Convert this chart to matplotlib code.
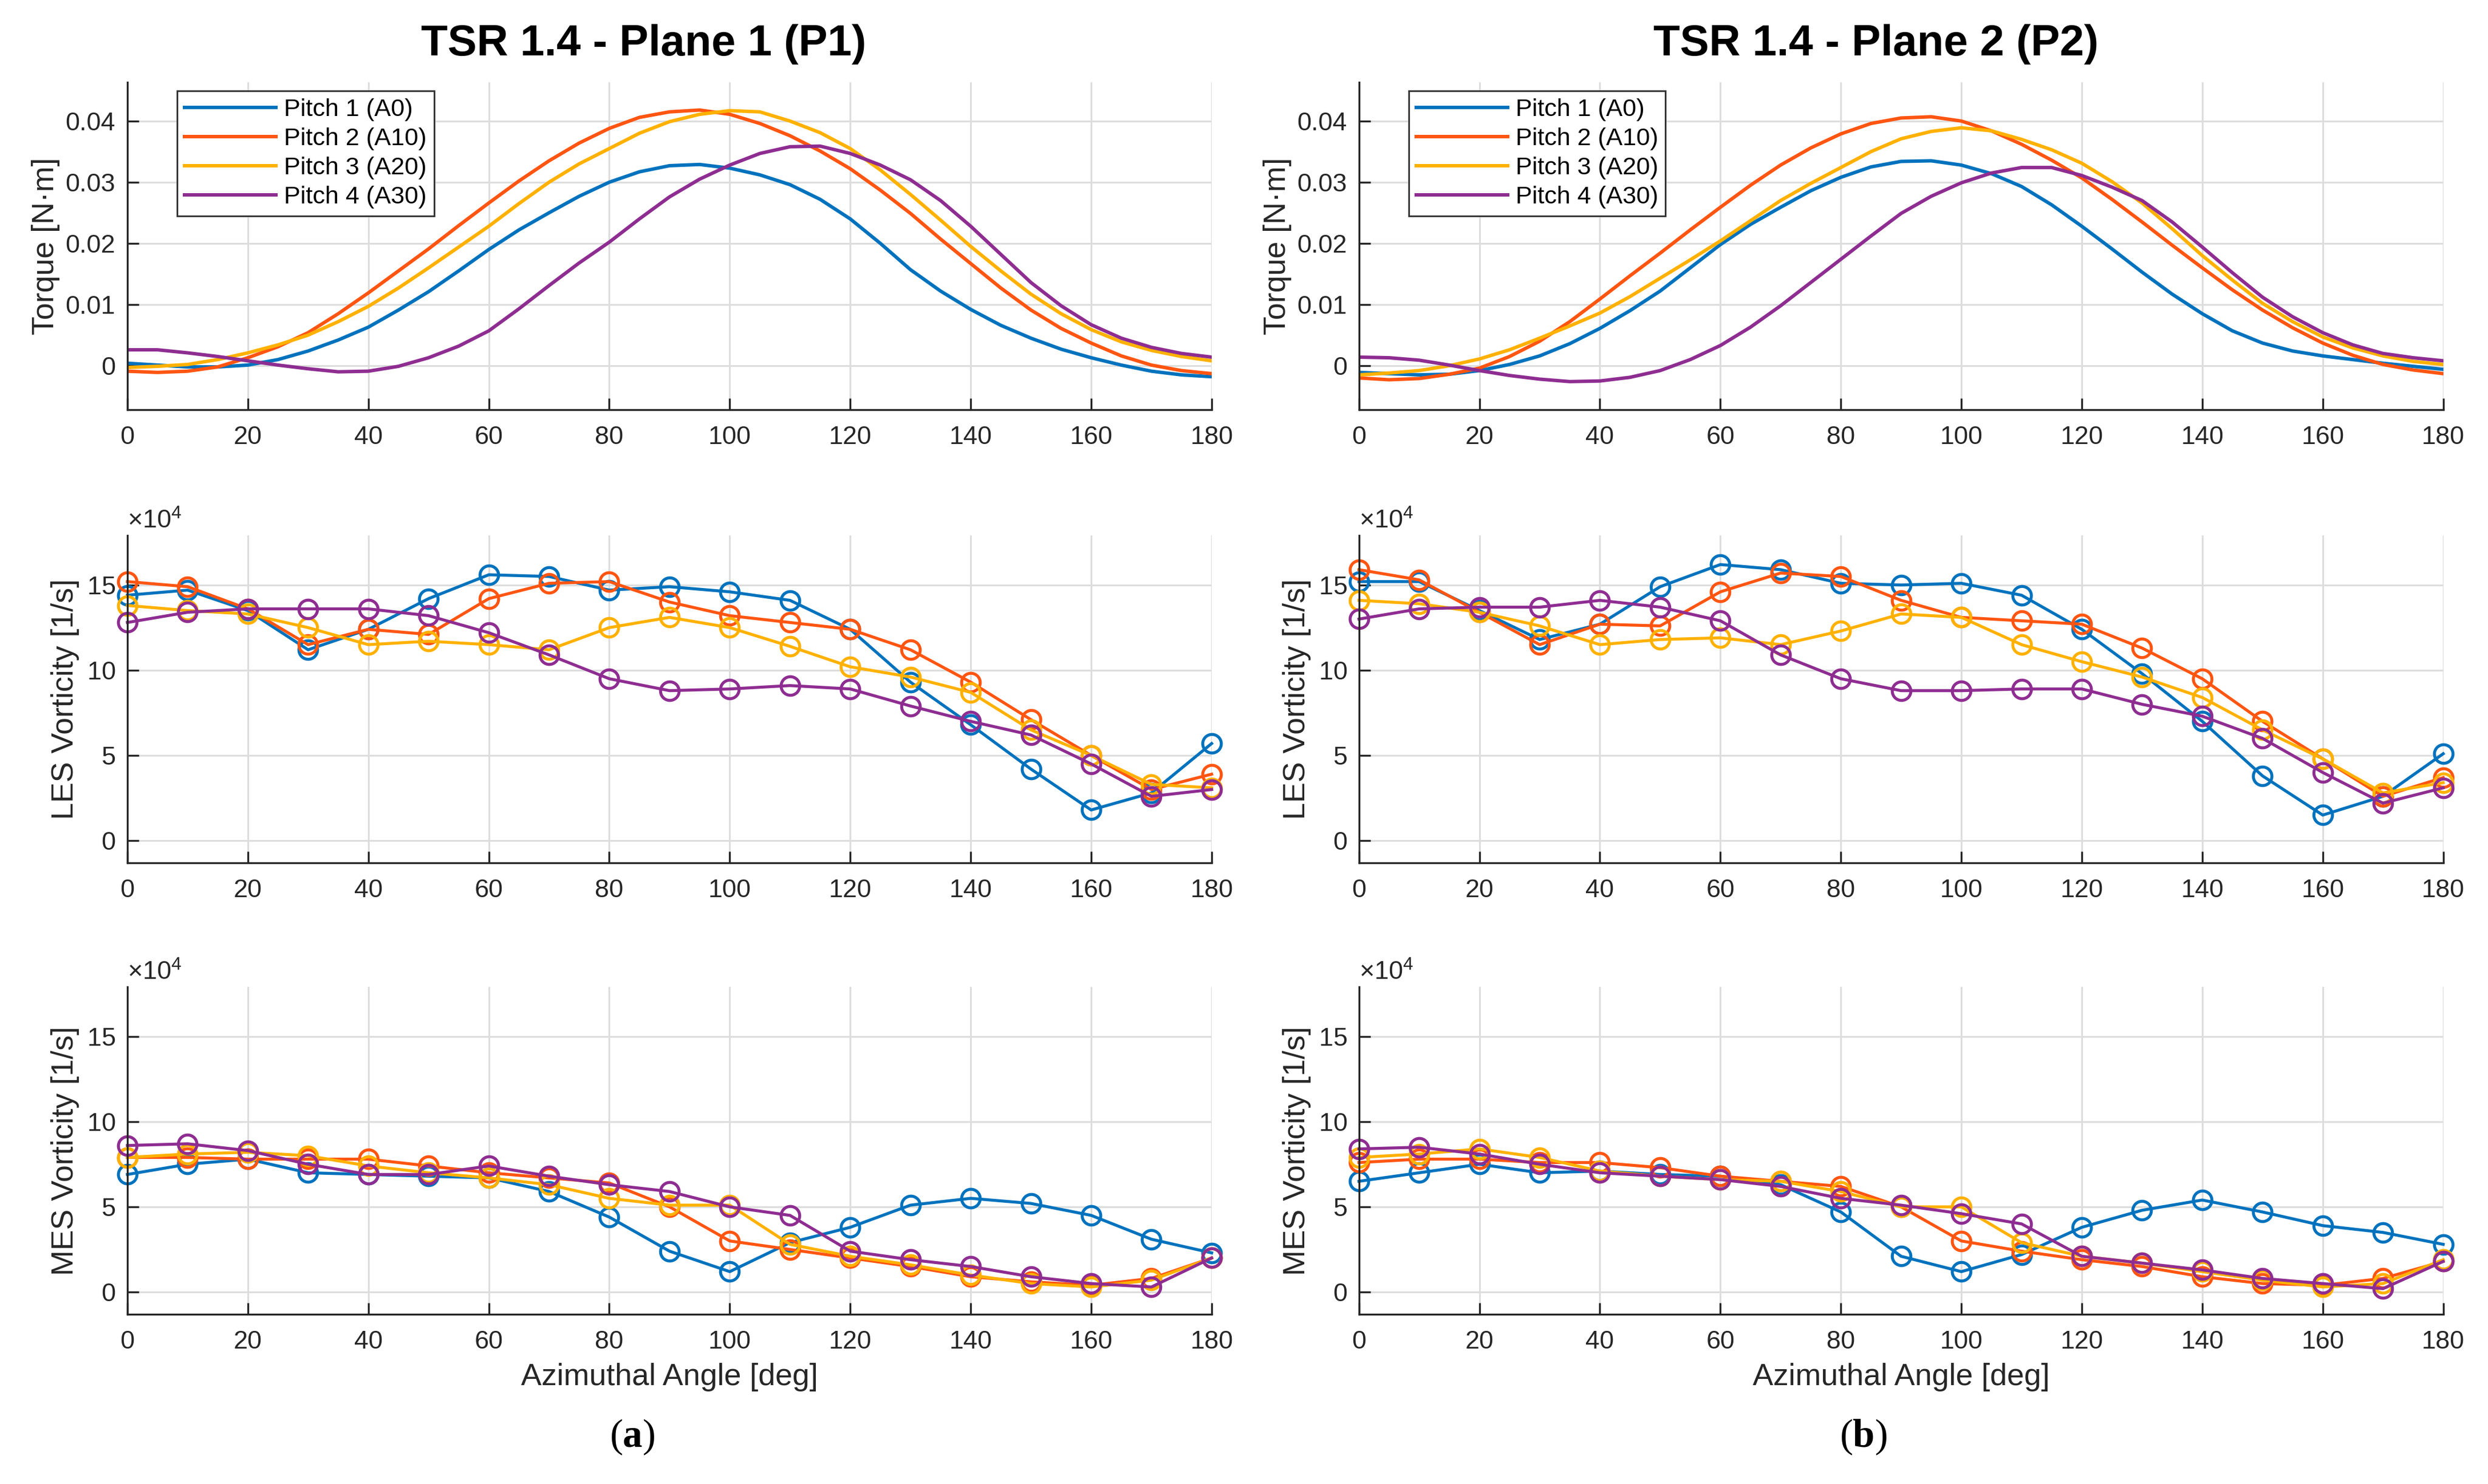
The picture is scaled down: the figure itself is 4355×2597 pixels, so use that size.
import numpy as np
import matplotlib
matplotlib.use("Agg")
import matplotlib.pyplot as plt
from matplotlib.ticker import FuncFormatter, ScalarFormatter

plt.rcParams["font.family"] = ["Liberation Sans", "DejaVu Sans"]
plt.rcParams["mathtext.fontset"] = "custom"
plt.rcParams["mathtext.rm"] = "Liberation Sans"
plt.rcParams["mathtext.bf"] = "Liberation Serif:bold"

# ---------------------------------------------------------------- data
ANGLE_FINE = np.arange(0, 181, 5)   # torque curves, read every 5 deg
ANGLE = np.arange(0, 181, 10)       # vorticity samples

LABELS = ["Pitch 1 (A0)", "Pitch 2 (A10)", "Pitch 3 (A20)", "Pitch 4 (A30)"]
COLORS = ["#0072BD", "#FF5511", "#FFB100", "#8E2D91"]
TITLES = ["TSR 1.4 - Plane 1 (P1)", "TSR 1.4 - Plane 2 (P2)"]
PANEL_TAGS = ["a", "b"]

# torque [N m], plane 1
torque_p1_a0 = [0.0004, 0.0001, -0.0002, -0.0002, 0.0001, 0.0010, 0.0024, 0.0042, 0.0063, 0.0091,
                0.0121, 0.0155, 0.0190, 0.0222, 0.0250, 0.0277, 0.0300, 0.0317, 0.0327, 0.0329,
                0.0323, 0.0312, 0.0296, 0.0272, 0.0240, 0.0200, 0.0157, 0.0122, 0.0092, 0.0066,
                0.0045, 0.0027, 0.0013, 0.0001, -0.0009, -0.0015, -0.0018]
torque_p1_a10 = [-0.0009, -0.0011, -0.0009, -0.0002, 0.0013, 0.0031, 0.0054, 0.0085, 0.0119, 0.0155,
                 0.0191, 0.0229, 0.0266, 0.0302, 0.0335, 0.0364, 0.0388, 0.0406, 0.0415, 0.0418,
                 0.0411, 0.0396, 0.0376, 0.0351, 0.0322, 0.0287, 0.0249, 0.0207, 0.0167, 0.0127,
                 0.0091, 0.0061, 0.0037, 0.0016, 0.0001, -0.0008, -0.0013]
torque_p1_a20 = [-0.0003, -0.0001, 0.0002, 0.0010, 0.0021, 0.0034, 0.0050, 0.0072, 0.0097, 0.0127,
                 0.0160, 0.0194, 0.0228, 0.0265, 0.0300, 0.0330, 0.0355, 0.0380, 0.0399, 0.0411,
                 0.0417, 0.0415, 0.0400, 0.0381, 0.0355, 0.0320, 0.0280, 0.0238, 0.0195, 0.0155,
                 0.0117, 0.0085, 0.0059, 0.0039, 0.0025, 0.0015, 0.0008]
torque_p1_a30 = [0.0026, 0.0026, 0.0021, 0.0015, 0.0008, 0.0001, -0.0005, -0.0010, -0.0009, -0.0001,
                 0.0013, 0.0032, 0.0057, 0.0093, 0.0131, 0.0168, 0.0202, 0.0240, 0.0276, 0.0305,
                 0.0328, 0.0347, 0.0358, 0.0359, 0.0347, 0.0328, 0.0304, 0.0270, 0.0228, 0.0182,
                 0.0136, 0.0098, 0.0067, 0.0045, 0.0030, 0.0020, 0.0014]

# torque [N m], plane 2
torque_p2_a0 = [-0.0011, -0.0013, -0.0015, -0.0014, -0.0008, 0.0002, 0.0016, 0.0036, 0.0061, 0.0090,
                0.0122, 0.0160, 0.0198, 0.0231, 0.0259, 0.0286, 0.0308, 0.0325, 0.0334, 0.0335,
                0.0328, 0.0314, 0.0293, 0.0263, 0.0228, 0.0191, 0.0153, 0.0117, 0.0085, 0.0057,
                0.0037, 0.0024, 0.0016, 0.0010, 0.0004, -0.0001, -0.0006]
torque_p2_a10 = [-0.0020, -0.0023, -0.0021, -0.0014, -0.0004, 0.0015, 0.0040, 0.0072, 0.0109, 0.0147,
                 0.0184, 0.0222, 0.0259, 0.0295, 0.0328, 0.0356, 0.0379, 0.0396, 0.0405, 0.0407,
                 0.0400, 0.0384, 0.0362, 0.0336, 0.0307, 0.0272, 0.0235, 0.0197, 0.0160, 0.0124,
                 0.0091, 0.0062, 0.0037, 0.0017, 0.0002, -0.0007, -0.0013]
torque_p2_a20 = [-0.0015, -0.0012, -0.0008, 0.0000, 0.0011, 0.0026, 0.0045, 0.0065, 0.0086, 0.0113,
                 0.0143, 0.0173, 0.0204, 0.0237, 0.0270, 0.0298, 0.0324, 0.0350, 0.0371, 0.0383,
                 0.0389, 0.0384, 0.0370, 0.0353, 0.0331, 0.0301, 0.0266, 0.0224, 0.0180, 0.0140,
                 0.0102, 0.0072, 0.0047, 0.0029, 0.0016, 0.0007, 0.0002]
torque_p2_a30 = [0.0014, 0.0013, 0.0009, 0.0001, -0.0008, -0.0016, -0.0022, -0.0026, -0.0025, -0.0019,
                 -0.0008, 0.0010, 0.0033, 0.0063, 0.0098, 0.0136, 0.0174, 0.0212, 0.0249, 0.0277,
                 0.0299, 0.0315, 0.0324, 0.0324, 0.0311, 0.0292, 0.0270, 0.0235, 0.0194, 0.0152,
                 0.0112, 0.0080, 0.0054, 0.0034, 0.0020, 0.0013, 0.0008]

# vorticity, in units of 1e4 [1/s]
VORT_SCALE = 1e4
les_p1_a0 = [14.4, 14.7, 13.5, 11.2, 12.4, 14.2, 15.6, 15.5, 14.7, 14.9, 14.6, 14.1, 12.4, 9.3, 6.8, 4.2, 1.8, 2.8, 5.7]
les_p1_a10 = [15.2, 14.9, 13.6, 11.5, 12.4, 12.1, 14.2, 15.1, 15.2, 14.0, 13.2, 12.8, 12.4, 11.2, 9.3, 7.1, 5.0, 3.0, 3.9]
les_p1_a20 = [13.8, 13.5, 13.3, 12.5, 11.5, 11.7, 11.5, 11.2, 12.5, 13.1, 12.5, 11.4, 10.2, 9.6, 8.7, 6.5, 5.0, 3.3, 3.1]
les_p1_a30 = [12.8, 13.4, 13.6, 13.6, 13.6, 13.2, 12.2, 10.9, 9.5, 8.8, 8.9, 9.1, 8.9, 7.9, 7.0, 6.2, 4.5, 2.6, 3.0]

les_p2_a0 = [15.2, 15.2, 13.5, 11.8, 12.7, 14.9, 16.2, 15.9, 15.1, 15.0, 15.1, 14.4, 12.4, 9.8, 7.0, 3.8, 1.5, 2.6, 5.1]
les_p2_a10 = [15.9, 15.3, 13.4, 11.5, 12.7, 12.6, 14.6, 15.7, 15.5, 14.1, 13.1, 12.9, 12.7, 11.3, 9.5, 7.0, 4.8, 2.6, 3.7]
les_p2_a20 = [14.1, 13.9, 13.4, 12.6, 11.5, 11.8, 11.9, 11.5, 12.3, 13.3, 13.1, 11.5, 10.5, 9.6, 8.4, 6.5, 4.8, 2.8, 3.4]
les_p2_a30 = [13.0, 13.6, 13.7, 13.7, 14.1, 13.7, 12.9, 10.9, 9.5, 8.8, 8.8, 8.9, 8.9, 8.0, 7.3, 6.0, 4.0, 2.2, 3.1]

mes_p1_a0 = [6.9, 7.5, 7.8, 7.0, 6.9, 6.8, 6.7, 5.9, 4.4, 2.4, 1.2, 2.9, 3.8, 5.1, 5.5, 5.2, 4.5, 3.1, 2.3]
mes_p1_a10 = [7.9, 7.9, 7.8, 7.8, 7.8, 7.4, 7.0, 6.7, 6.4, 5.0, 3.0, 2.5, 2.0, 1.5, 0.9, 0.6, 0.4, 0.8, 2.0]
mes_p1_a20 = [7.9, 8.1, 8.2, 8.0, 7.4, 7.0, 6.7, 6.3, 5.5, 5.1, 5.1, 2.8, 2.1, 1.6, 1.0, 0.5, 0.3, 0.7, 2.0]
mes_p1_a30 = [8.6, 8.7, 8.3, 7.5, 6.9, 6.9, 7.4, 6.8, 6.3, 5.9, 5.0, 4.5, 2.4, 1.9, 1.5, 0.9, 0.5, 0.3, 2.0]

mes_p2_a0 = [6.5, 7.0, 7.5, 7.0, 7.1, 6.9, 6.8, 6.3, 4.7, 2.1, 1.2, 2.2, 3.8, 4.8, 5.4, 4.7, 3.9, 3.5, 2.8]
mes_p2_a10 = [7.6, 7.8, 7.8, 7.6, 7.6, 7.3, 6.8, 6.5, 6.2, 5.0, 3.0, 2.4, 1.9, 1.5, 0.9, 0.5, 0.4, 0.8, 1.8]
mes_p2_a20 = [7.9, 8.1, 8.4, 7.9, 7.1, 6.8, 6.6, 6.5, 5.9, 5.0, 5.0, 2.9, 2.1, 1.7, 1.2, 0.7, 0.3, 0.5, 1.9]
mes_p2_a30 = [8.4, 8.5, 8.1, 7.5, 7.0, 6.8, 6.6, 6.2, 5.5, 5.1, 4.6, 4.0, 2.1, 1.7, 1.3, 0.8, 0.5, 0.2, 1.8]

TORQUE = [
    [torque_p1_a0, torque_p1_a10, torque_p1_a20, torque_p1_a30],
    [torque_p2_a0, torque_p2_a10, torque_p2_a20, torque_p2_a30],
]
LES = [
    [les_p1_a0, les_p1_a10, les_p1_a20, les_p1_a30],
    [les_p2_a0, les_p2_a10, les_p2_a20, les_p2_a30],
]
MES = [
    [mes_p1_a0, mes_p1_a10, mes_p1_a20, mes_p1_a30],
    [mes_p2_a0, mes_p2_a10, mes_p2_a20, mes_p2_a30],
]

# ---------------------------------------------------------------- style
AX_COLOR = "#262626"
GRID_COLOR = "#dddddd"
TICK_FS = 10.8
LABEL_FS = 12.9
LW_TORQUE = 1.45
LW_VORT = 1.25

COL_LEFT = [0.0512, 0.5462]
AX_W = 0.4358
ROW_BOTTOM = [0.7239, 0.4186, 0.1144]
AX_H = 0.2205


def style_axes(ax):
    ax.set_axisbelow(True)
    for side in ("top", "right"):
        ax.spines[side].set_visible(False)
    for side in ("left", "bottom"):
        ax.spines[side].set_color(AX_COLOR)
        ax.spines[side].set_linewidth(0.8)
    ax.grid(True, color=GRID_COLOR, linewidth=0.75)
    ax.tick_params(direction="in", length=4.8, width=0.8, colors=AX_COLOR,
                   labelsize=TICK_FS, labelcolor=AX_COLOR)
    ax.tick_params(axis="x", pad=6.8)
    ax.tick_params(axis="y", pad=5)
    ax.set_xlim(0, 180)
    ax.set_xticks(np.arange(0, 181, 20))


fig = plt.figure(figsize=(4355 / 300, 2597 / 300), dpi=300, facecolor="white")

for c in range(2):
    # torque
    ax = fig.add_axes([COL_LEFT[c], ROW_BOTTOM[0], AX_W, AX_H])
    style_axes(ax)
    for vals, col, lab in zip(TORQUE[c], COLORS, LABELS):
        ax.plot(ANGLE_FINE, vals, color=col, lw=LW_TORQUE, label=lab)
    ax.set_ylim(-0.0072, 0.0463)
    ax.set_yticks([0, 0.01, 0.02, 0.03, 0.04])
    ax.yaxis.set_major_formatter(FuncFormatter(lambda v, _: f"{v:g}"))
    ax.set_ylabel("Torque [N\u00b7m]", fontsize=LABEL_FS, color=AX_COLOR)
    ax.yaxis.set_label_coords(-0.062, 0.5)
    leg = ax.legend(loc="upper left", bbox_to_anchor=(0.0458, 0.974), borderaxespad=0,
                    fontsize=10.4, handlelength=3.7, handletextpad=0.32, labelspacing=0.25,
                    borderpad=0.3, fancybox=False, framealpha=1, edgecolor="#333333")
    leg.get_frame().set_linewidth(0.7)
    fig.text([0.2588, 0.7541][c], 0.9627, TITLES[c], ha="center", va="baseline",
             fontsize=18.3, fontweight="bold", color="black")

    # LES / MES vorticity
    for r, (data, name) in enumerate([(LES[c], "LES"), (MES[c], "MES")], start=1):
        ax = fig.add_axes([COL_LEFT[c], ROW_BOTTOM[r], AX_W, AX_H])
        style_axes(ax)
        for vals, col in zip(data, COLORS):
            ax.plot(ANGLE, np.array(vals) * VORT_SCALE, color=col, lw=LW_VORT, marker="o",
                    mfc="none", ms=7.8, mew=LW_VORT, clip_on=False)
        ax.set_ylim(-1.3e4, 17.9e4)
        ax.set_yticks([0, 5e4, 10e4, 15e4])
        fmt = ScalarFormatter(useMathText=True)
        fmt.set_powerlimits((4, 4))
        ax.yaxis.set_major_formatter(fmt)
        ax.yaxis.get_offset_text().set_fontsize(TICK_FS)
        ax.yaxis.get_offset_text().set_color(AX_COLOR)
        ax.set_ylabel(f"{name} Vorticity [1/s]", fontsize=LABEL_FS, color=AX_COLOR)
        ax.yaxis.set_label_coords(-0.044, 0.5)
        if r == 2:
            ax.set_xlabel("Azimuthal Angle [deg]", fontsize=LABEL_FS, color=AX_COLOR,
                          labelpad=3.8)

    fig.text([0.254, 0.749][c], 0.0316, f"($\\mathbf{{{PANEL_TAGS[c]}}}$)",
             ha="center", va="center", fontsize=16.5, family="Liberation Serif")

fig.savefig("out.png", dpi=300, facecolor="white")
